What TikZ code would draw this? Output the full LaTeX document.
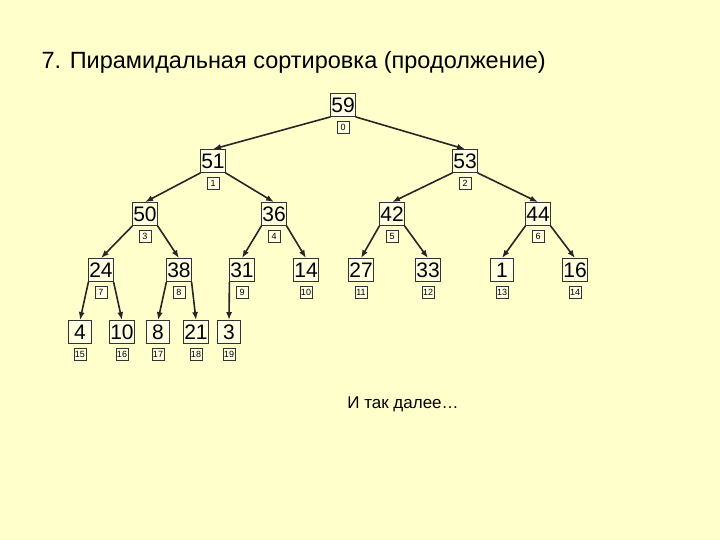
\documentclass[tikz,border=0pt]{standalone}
\usepackage{fontspec}
\setmainfont{Liberation Sans}
\usetikzlibrary{arrows.meta}
\definecolor{bg}{HTML}{FFFFCC}
\definecolor{boxfill}{HTML}{FFFFE2}
\begin{document}
\begin{tikzpicture}[x=1pt,y=-1pt,
  valbox/.style={draw=black!80,line width=0.8pt,fill=boxfill,minimum width=23pt,minimum height=23pt,inner sep=0.5pt,font=\fontsize{21}{21}\selectfont},
  idxbox/.style={draw=black!80,line width=0.7pt,fill=boxfill,minimum width=12pt,minimum height=12pt,inner sep=1pt,font=\fontsize{9}{9}\selectfont},
  edge/.style={draw=black!85,line width=1.6pt,-{Latex[length=8pt,width=6pt]}}]
\fill[bg] (0,0) rectangle (720,540);
\useasboundingbox (0,0) rectangle (720,540);
\node[anchor=west,font=\fontsize{23.5}{23.5}\selectfont] (title) at (38,62) {7. Пирамидальная сортировка (продолжение)};
\foreach \i/\v/\x/\y in {0/59/343/105, 1/51/213/161, 2/53/465/161, 3/50/145/214, 4/36/274/214, 5/42/392/214, 6/44/538/214,
  7/24/101/270, 8/38/179/270, 9/31/242/270, 10/14/306/270, 11/27/361/270, 12/33/428/270, 13/1/502/270, 14/16/575/270,
  15/4/80/332, 16/10/122/332, 17/8/158/332, 18/21/196/332, 19/3/229/332}{
  \node[valbox] (v\i) at (\x,\y) {\v};
  \node[idxbox] (i\i) at (\x,\y+22.5) {\i};
}
\foreach \p/\l/\r in {0/1/2, 1/3/4, 2/5/6, 3/7/8, 4/9/10, 5/11/12, 6/13/14, 7/15/16, 8/17/18}{
  \draw[edge] (v\p.south west) -- (v\l.north);
  \draw[edge] (v\p.south east) -- (v\r.north);
}
\draw[edge] (v9.south west) -- (v19.north);
\node[font=\fontsize{17}{17}\selectfont] (etc) at (403,404) {И так далее…};
\end{tikzpicture}
\end{document}
